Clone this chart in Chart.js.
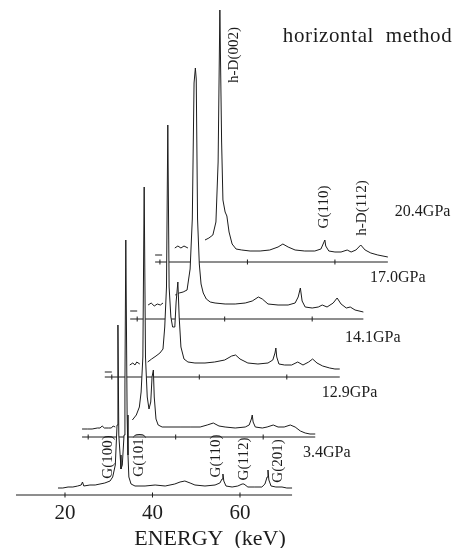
<!DOCTYPE html>
<html>
<head>
<meta charset="utf-8">
<title>horizontal method</title>
<script src="https://cdn.jsdelivr.net/npm/chart.js@4.4.1/dist/chart.umd.min.js"></script>
<style>
  html, body { margin: 0; padding: 0; background: #fff; }
  #wrap { width: 456px; height: 548px; }
</style>
</head>
<body>
<div id="wrap"><canvas id="spectra"></canvas></div>
<script>
// --- 1. Data ---

// energy in keV (own frame of each spectrum), counts in arbitrary units
// null = the trace is hidden behind a lower spectrum there
const energy34 = [18.4, 19.5, 20.7, 21.8, 22.9, 23.7, 24.0, 24.3, 25.7, 26.9, 28.0, 29.1, 30.3, 30.9, 31.5,
    31.9, 32.1, 32.3, 32.6, 32.8, 33.1, 33.5, 33.7, 33.9, 34.2, 34.4, 34.6, 35.1, 36.0, 38.3,
    40.6, 42.9, 45.1, 46.3, 47.4, 48.6, 49.7, 52.0, 54.3, 55.4, 55.9, 56.1, 56.3, 56.8, 58.2,
    59.5, 60.5, 60.9, 61.8, 63.4, 65.0, 65.7, 66.2, 66.4, 66.6, 67.1, 68.2, 69.6, 70.7, 71.9];
const count34 = [7, 7, 8, 8, 9, 10, 13, 9, 10, 10, 11, 12, 14, 18, 30,
    70, 170, 60, 40, 26, 30, 60, 110, 255, 80, 40, 18, 11, 9, 9,
    10, 9, 11, 13, 14, 12, 10, 9, 10, 12, 16, 21, 14, 9, 8,
    9, 11, 11, 8, 8, 8, 11, 18, 25, 15, 9, 8, 8, 7, 7];

const energy129 = [18.6, 19.8, 20.9, 22.1, 22.7, 23.2, 23.7, 24.6, 25.3, 25.7, 26.2, 28.0, 30.1, 31.0, 31.7,
    32.1, 32.5, 32.8, 33.1, 33.5, 33.9, 34.3, 34.6, 34.9, 35.1, 35.5, 36.0, 36.9, 38.7, 41.0,
    43.3, 45.6, 47.2, 48.6, 49.9, 51.3, 53.6, 55.9, 56.8, 57.3, 57.5, 57.7, 58.2, 59.8, 60.9,
    62.3, 63.4, 64.8, 66.2, 67.3, 68.5, 69.6, 70.7, 71.9];
const count129 = [8, 8, 8, 9, 9, 11, 9, 9, 9, 11, 10, null, 17, 22, 30,
    45, 80, 250, 80, 40, 28, 35, 60, 67, 40, 18, 12, 10, 10, 10,
    10, 10, 12, 14, 11, 10, 9, 10, 12, 18, 22, 15, 10, 9, 10,
    12, 10, 10, 12, 10, 6, 4, 3, 3];

const energy141 = [18.4, 20.0, 21.0, 24.1, 24.8, 25.3, 25.7, 26.4, 27.2, 28.2, 29.1, 30.1, 31.0, 31.7, 32.1,
    32.5, 32.8, 33.1, 33.5, 33.9, 34.4, 34.7, 35.1, 35.4, 35.8, 36.5, 37.4, 39.0, 41.3, 43.5,
    45.8, 47.4, 48.3, 49.3, 51.1, 53.4, 55.7, 56.8, 57.3, 57.5, 57.7, 58.2, 59.5, 61.1, 62.5,
    63.7, 65.0, 65.9, 66.9, 68.2, 69.8, 71.0, 72.1];
const count141 = [5, 5, null, 12, 14, 12, 15, 13, null, 15, 18, 21, 24, 28, 50,
    90, 252, 90, 60, 50, 50, 75, 95, 60, 30, 18, 15, 14, 14, 15,
    17, 21, 22, 18, 14, 13, 14, 17, 24, 29, 20, 13, 12, 12, 15,
    12, 15, 18, 14, 11, 9, 8, 8];

const energy170 = [18.4, 20.0, 20.8, 22.5, 23.2, 23.9, 24.6, 25.3, 25.9, 26.8, 28.7, 29.6, 30.5, 31.4, 32.1,
    32.6, 33.0, 33.3, 33.5, 33.8, 34.2, 34.6, 35.1, 35.8, 36.7, 37.8, 40.1, 42.4, 44.7, 46.3,
    47.7, 48.6, 49.9, 52.2, 54.5, 56.1, 56.8, 57.3, 57.7, 58.4, 60.0, 61.4, 62.3, 63.4, 64.8,
    65.7, 66.6, 67.8, 68.7, 69.8, 71.7];
const count170 = [8, 8, null, 14, 16, 13, 15, 14, 16, null, 24, 26, 27, 29, 50,
    100, 236, 251, 240, 100, 55, 35, 26, 20, 17, 16, 15, 15, 16, 18,
    22, 20, 15, 14, 14, 16, 22, 31, 18, 12, 11, 12, 14, 12, 16,
    21, 15, 11, 12, 9, 7];

const energy204 = [18.9, 20.5, 21.3, 23.4, 24.1, 24.8, 25.5, 26.4, 27.4, 30.3, 31.2, 32.1, 32.8, 33.3, 33.7,
    34.1, 34.4, 34.9, 35.3, 35.8, 36.5, 37.4, 38.7, 40.6, 42.9, 45.1, 47.0, 48.1, 49.3, 50.9,
    53.1, 55.4, 56.8, 57.5, 57.7, 57.9, 58.6, 60.0, 61.4, 62.8, 63.7, 64.8, 65.9, 66.9, 68.2,
    69.8, 72.1];
const count204 = [7, 7, null, 14, 16, 14, 16, 14, null, 22, 24, 27, 40, 100, 252,
    120, 62, 50, 46, 30, 18, 13, 12, 11, 11, 12, 15, 18, 15, 12,
    11, 11, 13, 20, 22, 16, 11, 10, 10, 12, 10, 12, 17, 12, 9,
    7, 5];

// bottom to top
const pressures = ['3.4GPa', '12.9GPa', '14.1GPa', '17.0GPa', '20.4GPa'];
const energies = [energy34, energy129, energy141, energy170, energy204];
const counts = [count34, count129, count141, count170, count204];

// waterfall offsets of each spectrum (keV to the right, counts upward)
const shiftE = [0, 5.3, 10.7, 16.5, 21.7];
const shiftY = [0, 58, 118, 176, 233];

// each spectrum's zero line
const baseFrom = [8.8, 18.6, 18.4, 18.4, 18.9];
const baseTo = [71.9, 71.9, 72.1, 71.7, 72.1];

const tickValues = [20, 40, 60];

// reflection labels
const peakNames = ['G(100)', 'G(101)', 'G(110)', 'G(112)', 'G(201)', 'h-D(002)', 'G(110)', 'h-D(112)'];
const peakE = [29.8, 36.9, 54.5, 60.9, 68.7, 58.6, 79.2, 87.9];
const peakH = [38, 40, 39, 36, 34, 440, 288, 287];

// pressure labels
const pressureE = [74.4, 78.7, 84.0, 89.7, 95.4];
const pressureH = [42, 102, 157, 217, 283];

const INK = '#1c1c1c';
const SERIF = '"Liberation Serif", "Times New Roman", serif';

// --- 2. Build the datasets ---
// order of the array = drawing order reversed: bottom spectrum is drawn last (in front)
const datasets = [];
pressures.forEach((p, k) => {
    // zero line with ticks at 20, 40, 60 keV
    const baseX = [baseFrom[k]].concat(tickValues, [baseTo[k]]);
    datasets.push({
        label: p + ' base',
        data: baseX.map(e => ({ x: e + shiftE[k], y: shiftY[k] })),
        borderColor: INK,
        borderWidth: 1,
        pointStyle: 'line',
        rotation: 90,
        pointRadius: ctx => tickValues.includes(baseX[ctx.dataIndex]) ? 2.5 : 0,
        pointBorderColor: INK,
        pointBorderWidth: 1,
        fill: false
    });
    // the spectrum itself, filled white so it hides what is behind it
    datasets.push({
        label: p,
        data: energies[k].map((e, i) => ({
            x: e + shiftE[k],
            y: counts[k][i] === null ? null : counts[k][i] + shiftY[k]
        })),
        borderColor: INK,
        borderWidth: 1,
        pointRadius: 0,
        tension: 0,
        spanGaps: false,
        fill: { value: shiftY[k] },
        backgroundColor: '#ffffff'
    });
});

// --- 3. Text drawn on top: reflections, pressures, method ---
const figureText = {
    id: 'figureText',
    afterDatasetsDraw(chart) {
        const { ctx, scales: { x, y } } = chart;
        ctx.save();
        ctx.fillStyle = INK;
        ctx.textBaseline = 'middle';

        ctx.font = '15px ' + SERIF;
        ctx.textAlign = 'center';
        peakNames.forEach((name, i) => {
            ctx.save();
            ctx.translate(x.getPixelForValue(peakE[i]), y.getPixelForValue(peakH[i]));
            ctx.rotate(-Math.PI / 2);
            ctx.fillText(name, 0, 0);
            ctx.restore();
        });

        ctx.font = '16px ' + SERIF;
        ctx.textAlign = 'left';
        pressures.forEach((p, k) => {
            ctx.fillText(p, x.getPixelForValue(pressureE[k]), y.getPixelForValue(pressureH[k]));
        });

        ctx.font = '21px ' + SERIF;
        ctx.letterSpacing = '0.6px';
        ctx.fillText('horizontal  method', x.getPixelForValue(69.8), y.getPixelForValue(459));
        ctx.restore();
    }
};

// --- 4. Chart ---
new Chart(document.getElementById('spectra'), {
    type: 'line',
    data: { datasets: datasets },
    plugins: [figureText],
    options: {
        responsive: true,
        maintainAspectRatio: false,
        animation: false,
        layout: { padding: { left: 0, right: 36, top: 0, bottom: 0 } },
        plugins: {
            legend: { display: false },
            tooltip: { enabled: false }
        },
        scales: {
            x: {
                type: 'linear',
                min: 5.143,
                max: 101.143,
                grid: { display: false, drawTicks: false },
                border: { display: false },
                afterBuildTicks: scale => {
                    scale.ticks = tickValues.map(v => ({ value: v }));
                },
                // keep the plot area ending at the bottom zero line
                afterFit: scale => {
                    scale.height = 50;
                },
                ticks: {
                    color: INK,
                    padding: 3,
                    maxRotation: 0,
                    autoSkip: false,
                    font: { family: SERIF, size: 21 }
                },
                title: {
                    display: true,
                    text: 'ENERGY  (keV)',
                    color: INK,
                    padding: { top: 0, bottom: -2 },
                    font: { family: SERIF, size: 22, lineHeight: 1 }
                }
            },
            y: {
                display: false,
                min: -3,
                max: 495
            }
        }
    }
});
</script>
</body>
</html>
